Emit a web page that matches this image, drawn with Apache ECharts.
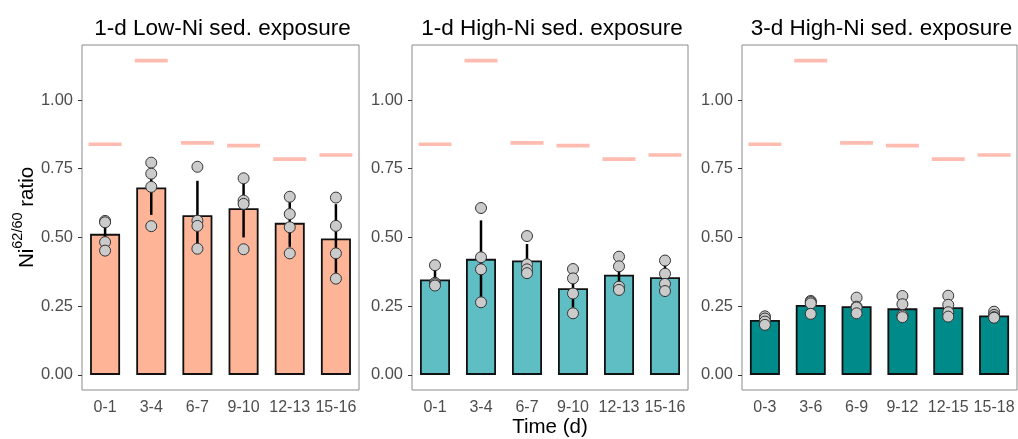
<!DOCTYPE html>
<html>
<head>
<meta charset="utf-8">
<script src="https://cdn.jsdelivr.net/npm/echarts@6/dist/echarts.min.js"></script>
<style>
  html, body { margin: 0; padding: 0; background: #fff; }
  #chart { width: 1018px; height: 439px; }
</style>
</head>
<body>
<div id="chart"></div>
<script>
// categories
const catsOneDay = ["0-1", "3-4", "6-7", "9-10", "12-13", "15-16"];
const catsThreeDay = ["0-3", "3-6", "6-9", "9-12", "12-15", "15-18"];
const panelTitles = ["1-d Low-Ni sed. exposure", "1-d High-Ni sed. exposure", "3-d High-Ni sed. exposure"];
const yTicks = [0, 0.25, 0.5, 0.75, 1.0];

// reference ratio (pink dashes), same in every panel
const refRatio = [0.839, 1.143, 0.844, 0.834, 0.785, 0.8];

// 1-d Low-Ni
const lowMean = [0.513, 0.682, 0.581, 0.606, 0.553, 0.496];
const lowSd = [0.055, 0.10, 0.125, 0.106, 0.087, 0.125];
const lowPoints = [
  [0.56, 0.555, 0.483, 0.452],
  [0.772, 0.732, 0.684, 0.541],
  [0.757, 0.561, 0.542, 0.459],
  [0.715, 0.634, 0.622, 0.457],
  [0.648, 0.585, 0.537, 0.442],
  [0.645, 0.542, 0.442, 0.35]
];

// 1-d High-Ni
const high1Mean = [0.347, 0.422, 0.416, 0.315, 0.364, 0.355];
const high1Sd = [0.035, 0.14, 0.06, 0.07, 0.058, 0.048];
const high1Points = [
  [0.399, 0.335, 0.33, 0.325],
  [0.607, 0.428, 0.384, 0.264],
  [0.505, 0.402, 0.384, 0.37],
  [0.385, 0.351, 0.296, 0.224],
  [0.43, 0.395, 0.321, 0.309],
  [0.416, 0.368, 0.331, 0.305]
];

// 3-d High-Ni
const high3Mean = [0.2, 0.254, 0.25, 0.242, 0.246, 0.216];
const high3Sd = [0.013, 0.022, 0.023, 0.036, 0.033, 0.01];
const high3Points = [
  [0.213, 0.205, 0.194, 0.182],
  [0.269, 0.265, 0.26, 0.222],
  [0.281, 0.248, 0.245, 0.224],
  [0.287, 0.257, 0.216, 0.21],
  [0.288, 0.255, 0.228, 0.212],
  [0.23, 0.218, 0.21, 0.208]
];

const panels = [
  { cats: catsOneDay, mean: lowMean, sd: lowSd, pts: lowPoints, fill: "#FDB497", left: 82, width: 277 },
  { cats: catsOneDay, mean: high1Mean, sd: high1Sd, pts: high1Points, fill: "#5FBDC4", left: 412, width: 276 },
  { cats: catsThreeDay, mean: high3Mean, sd: high3Sd, pts: high3Points, fill: "#008B8B", left: 742, width: 275 }
];

const font = "Liberation Sans, Arial, sans-serif";
const grid = [], xAxis = [], yAxis = [], series = [], title = [];

panels.forEach((p, i) => {
  grid.push({
    left: p.left, width: p.width, top: 45, height: 345,
    outerBoundsMode: "none", containLabel: false,
    show: true, borderColor: "#8a8a8a", borderWidth: 1, backgroundColor: "transparent"
  });
  title.push({
    text: panelTitles[i],
    left: p.left + p.width / 2 - 3, top: 12, textAlign: "center",
    textStyle: { fontFamily: font, fontSize: 22.5, fontWeight: "normal", color: "#000" }
  });
  xAxis.push({
    type: "category", gridIndex: i, data: p.cats, boundaryGap: true,
    axisLine: { show: false },
    axisTick: { alignWithLabel: true, length: 4, lineStyle: { color: "#333" } },
    axisLabel: { color: "#4d4d4d", fontSize: 16, fontFamily: font, margin: 10, interval: 0, hideOverlap: false },
    name: i === 1 ? "Time (d)" : "", nameLocation: "middle", nameGap: 27, nameMoveOverlap: false,
    nameTextStyle: { fontFamily: font, fontSize: 20.5, color: "#000" }
  });
  yAxis.push({
    type: "value", gridIndex: i, min: -0.055, max: 1.2,
    axisLine: { show: false },
    splitLine: { show: false },
    axisTick: { show: true, length: 4, customValues: yTicks, lineStyle: { color: "#333" } },
    axisLabel: {
      customValues: yTicks, color: "#4d4d4d", fontSize: 16.5, fontFamily: font, margin: 9,
      formatter: v => v.toFixed(2)
    },
    name: i === 0 ? "{b|Ni}{s|62/60}{b| ratio}" : "",
    nameLocation: "middle", nameGap: 44, nameRotate: 90, nameMoveOverlap: false,
    nameTextStyle: {
      rich: {
        b: { fontFamily: font, fontSize: 20.5, color: "#000", lineHeight: 28, verticalAlign: "bottom" },
        s: { fontFamily: font, fontSize: 14.5, color: "#000", lineHeight: 28, verticalAlign: "top" }
      }
    }
  });

  // bars
  series.push({
    type: "bar", xAxisIndex: i, yAxisIndex: i, data: p.mean, barWidth: 30,
    itemStyle: { color: p.fill, borderColor: "#111", borderWidth: 1.8 },
    silent: true, z: 2
  });
  // reference dashes
  series.push({
    type: "scatter", xAxisIndex: i, yAxisIndex: i,
    data: refRatio.map((v, k) => [k, v]),
    symbol: "rect", symbolSize: [33, 3.6],
    itemStyle: { color: "#FFAB9C" }, silent: true, z: 2
  });
  // error bars (mean +/- sd)
  series.push({
    type: "custom", xAxisIndex: i, yAxisIndex: i,
    data: p.mean.map((m, k) => [k, m - p.sd[k], m + p.sd[k]]),
    renderItem: (params, api) => {
      const a = api.coord([api.value(0), api.value(1)]);
      const b = api.coord([api.value(0), api.value(2)]);
      return {
        type: "line",
        shape: { x1: a[0], y1: a[1], x2: b[0], y2: b[1] },
        style: { stroke: "#000", lineWidth: 2.5 }
      };
    },
    silent: true, z: 3
  });
  // individual points
  const dots = [];
  p.pts.forEach((arr, k) => arr.forEach(v => dots.push([k, v])));
  series.push({
    type: "scatter", xAxisIndex: i, yAxisIndex: i, data: dots,
    symbol: "circle", symbolSize: 11,
    itemStyle: { color: "#CBCBCB", borderColor: "#333", borderWidth: 1, opacity: 1 },
    silent: true, z: 4
  });
});

const chart = echarts.init(document.getElementById("chart"));
chart.setOption({
  animation: false,
  title, grid, xAxis, yAxis, series
});
</script>
</body>
</html>
